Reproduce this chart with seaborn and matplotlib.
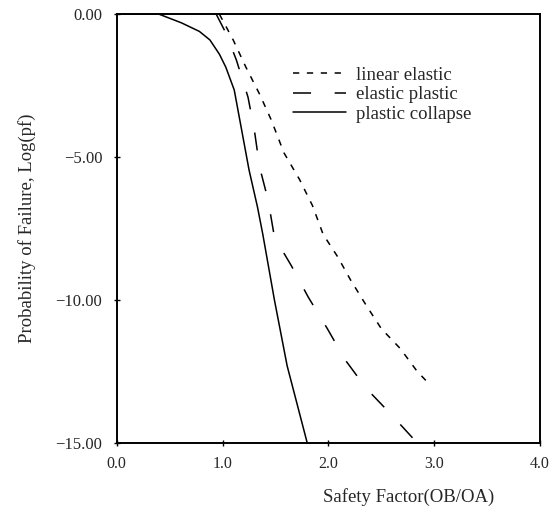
import matplotlib
matplotlib.use("Agg")
import matplotlib.pyplot as plt
import seaborn as sns
import pandas as pd

# ---- data ----
linear_x = [0.97, 1.10, 1.22, 1.35, 1.46, 1.58, 1.73, 1.85, 1.95, 2.09, 2.21, 2.36, 2.50, 2.68, 2.84, 2.97]
linear_y = [0.0, -0.9, -1.85, -2.8, -3.7, -4.85, -5.8, -6.7, -7.7, -8.5, -9.3, -10.2, -11.0, -11.7, -12.5, -13.0]

elastic_x = [0.94, 1.03, 1.13, 1.24, 1.30, 1.35, 1.43, 1.49, 1.65, 1.81, 1.99, 2.16, 2.36, 2.58, 2.84]
elastic_y = [0.0, -0.65, -1.6, -2.9, -4.05, -5.35, -6.5, -7.8, -8.8, -9.9, -11.0, -12.1, -13.1, -13.95, -15.0]

collapse_x = [0.0, 0.40, 0.61, 0.78, 0.88, 0.97, 1.03, 1.11, 1.18, 1.25, 1.33, 1.38, 1.49, 1.61, 1.80]
collapse_y = [0.0, 0.0, -0.3, -0.6, -0.9, -1.4, -1.85, -2.65, -4.05, -5.45, -6.75, -7.7, -10.0, -12.3, -15.0]

series_names = ["linear elastic", "elastic plastic", "plastic collapse"]
x_ticks = [0.0, 1.0, 2.0, 3.0, 4.0]
x_tick_labels = ["0.0", "1.0", "2.0", "3.0", "4.0"]
y_ticks = [0.0, -5.0, -10.0, -15.0]
y_tick_labels = ["0.00", "\u22125.00", "\u221210.00", "\u221215.00"]

frames = []
for name, xs, ys in zip(series_names,
                        [linear_x, elastic_x, collapse_x],
                        [linear_y, elastic_y, collapse_y]):
    frames.append(pd.DataFrame({"sf": xs, "logpf": ys, "model": name}))
df = pd.concat(frames, ignore_index=True)

sns.set_style("ticks")
plt.rcParams["font.family"] = ["Liberation Serif", "DejaVu Serif"]

fig = plt.figure(figsize=(5.51, 5.08), dpi=100)
ax = fig.add_axes([0.212, 0.128, 0.768, 0.844])

lw = 1.1
dash_map = {
    "linear elastic": (4.5 / lw, 5.5 / lw),
    "elastic plastic": (13 / lw, 17 / lw),
    "plastic collapse": "",
}
sns.lineplot(data=df, x="sf", y="logpf", style="model", dashes=dash_map,
             color="black", sort=False, estimator=None, units="model",
             linewidth=lw, ax=ax, legend=True)

ax.set_xlim(0, 4)
ax.set_ylim(-15, 0)
ax.set_xticks(x_ticks)
ax.set_xticklabels(x_tick_labels, fontsize=11.5)
ax.set_yticks(y_ticks)
ax.set_yticklabels(y_tick_labels, fontsize=12)
ax.tick_params(direction="inout", length=5, width=1, color="black")
ax.tick_params(axis="y", pad=8)
ax.tick_params(axis="x", pad=7)
for s in ax.spines.values():
    s.set_color("black")
    s.set_linewidth(1.4)
    s.set_visible(True)

ax.set_xlabel("Safety Factor(OB/OA)", fontsize=13.5)
ax.xaxis.set_label_coords(0.69, -0.105)
ax.set_ylabel("Probability of Failure, Log(pf)", fontsize=13.5)
ax.yaxis.set_label_coords(-0.19, 0.5)

handles, labels = ax.get_legend_handles_labels()
leg = ax.legend(handles, labels, loc="upper left", bbox_to_anchor=(0.399, 0.895),
                frameon=False, fontsize=13.5, handlelength=2.8, handletextpad=0.55,
                labelspacing=0.12, borderaxespad=0)

fig.savefig("out.png", dpi=100)
